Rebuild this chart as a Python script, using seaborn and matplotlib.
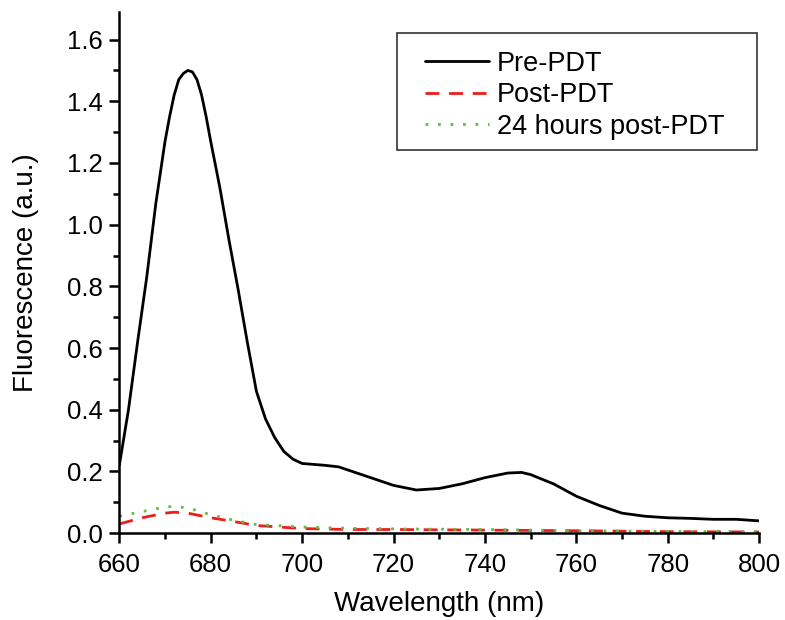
import pandas as pd
import matplotlib
matplotlib.use("Agg")
import matplotlib.pyplot as plt
import seaborn as sns
from matplotlib.patches import Rectangle
from matplotlib.ticker import MultipleLocator, FormatStrFormatter

# Data
wl_pre = [660, 662, 664, 666, 668, 669, 670, 671, 672, 673, 674, 675, 676, 677, 678, 679,
          680, 682, 684, 686, 688, 690, 692, 694, 696, 698, 700, 705, 708, 710, 715, 720,
          725, 730, 735, 740, 745, 748, 750, 755, 760, 765, 770, 775, 780, 785, 790, 795, 800]
pre_pdt = [0.22, 0.40, 0.62, 0.83, 1.07, 1.17, 1.27, 1.35, 1.42, 1.47, 1.49, 1.50, 1.495,
           1.47, 1.42, 1.35, 1.27, 1.12, 0.95, 0.79, 0.62, 0.46, 0.37, 0.31, 0.265, 0.24,
           0.226, 0.22, 0.215, 0.205, 0.18, 0.155, 0.14, 0.145, 0.16, 0.18, 0.195, 0.197,
           0.19, 0.16, 0.12, 0.09, 0.065, 0.055, 0.05, 0.048, 0.045, 0.045, 0.04]

wl_low = [660, 665, 670, 672, 675, 680, 685, 690, 700, 710, 720, 740, 760, 780, 800]
post_pdt = [0.03, 0.05, 0.065, 0.068, 0.065, 0.05, 0.038, 0.025, 0.015, 0.012, 0.012, 0.010,
            0.008, 0.005, 0.004]
post_24h = [0.055, 0.07, 0.085, 0.087, 0.082, 0.06, 0.042, 0.028, 0.020, 0.016, 0.014, 0.012,
            0.008, 0.006, 0.005]

sns.set_style("ticks")
plt.rcParams["font.family"] = ["Liberation Sans", "DejaVu Sans"]
# plain black text and axes
for key in ["text.color", "axes.labelcolor", "xtick.color", "ytick.color", "axes.edgecolor"]:
    plt.rcParams[key] = "black"

fig = plt.figure(figsize=(7.85, 6.2), dpi=100)
ax = fig.add_axes([0.152, 0.140, 0.815, 0.841])

sns.lineplot(x=wl_pre, y=pre_pdt, ax=ax, color="black", lw=2, label="Pre-PDT")
sns.lineplot(x=wl_low, y=post_pdt, ax=ax, color="#ee1c1c", lw=2, ls=(0, (5, 3.5)),
             label="Post-PDT")
sns.lineplot(x=wl_low, y=post_24h, ax=ax, color="#66bb44", lw=2, ls=(0, (1, 3.5)),
             label="24 hours post-PDT")

ax.set_xlim(660, 800)
ax.set_ylim(0, 1.69)
ax.xaxis.set_major_locator(MultipleLocator(20))
ax.xaxis.set_minor_locator(MultipleLocator(10))
ax.yaxis.set_major_locator(MultipleLocator(0.2))
ax.yaxis.set_minor_locator(MultipleLocator(0.1))
ax.yaxis.set_major_formatter(FormatStrFormatter("%.1f"))

sns.despine(ax=ax)
for s in ["left", "bottom"]:
    ax.spines[s].set_linewidth(1.8)
ax.tick_params(which="major", length=7, width=1.8, labelsize=18.5, direction="out")
ax.tick_params(axis="x", which="major", pad=7)
ax.tick_params(axis="y", which="major", pad=5)
ax.tick_params(which="minor", length=4.5, width=1.8, direction="out")

ax.set_xlabel("Wavelength (nm)", fontsize=20, labelpad=10)
ax.set_ylabel("Fluorescence (a.u.)", fontsize=20, labelpad=20)

# legend without its own frame, with a box drawn around it
leg = ax.legend(loc="upper left", bbox_to_anchor=(0.478, 0.925), fontsize=19.5,
                frameon=False, borderpad=0, borderaxespad=0, handlelength=2.35,
                labelspacing=0.2, handletextpad=0.3)
ax.add_patch(Rectangle((0.434, 0.735), 0.563, 0.225, transform=ax.transAxes,
                       fill=False, edgecolor="#333333", lw=1.2, clip_on=False))

fig.savefig("out.png", dpi=100)
